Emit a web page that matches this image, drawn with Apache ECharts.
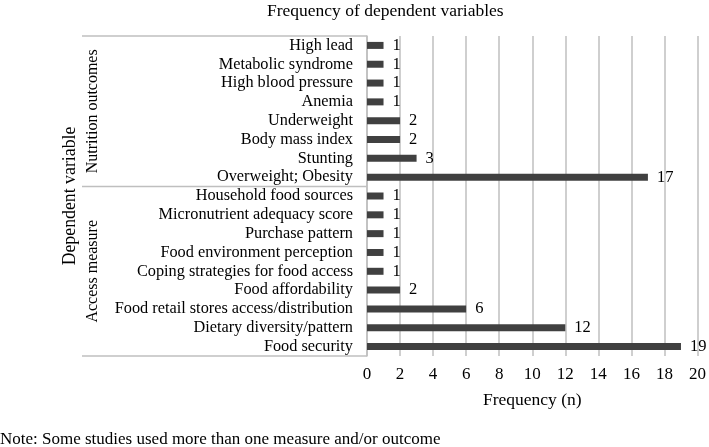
<!DOCTYPE html>
<html><head><meta charset="utf-8">
<script src="https://cdn.jsdelivr.net/npm/echarts@6/dist/echarts.min.js"></script>
<style>html,body{margin:0;padding:0;background:#fff}#c{width:709px;height:447px}</style>
</head><body><div id="c"></div>
<script>
const categories = ["High lead","Metabolic syndrome","High blood pressure","Anemia","Underweight","Body mass index","Stunting","Overweight; Obesity","Household food sources","Micronutrient adequacy score","Purchase pattern","Food environment perception","Coping strategies for food access","Food affordability","Food retail stores access/distribution","Dietary diversity/pattern","Food security"];
const values = [1,1,1,1,2,2,3,17,1,1,1,1,1,2,6,12,19];
const groups = [{name:"Nutrition outcomes", from:0, to:7},{name:"Access measure", from:8, to:16}];
const xTicks = [0,2,4,6,8,10,12,14,16,18,20];

const FONT = '"Liberation Serif","Times New Roman",serif';
const chart = echarts.init(document.getElementById('c'));
const gridTop = 36, gridBottom = 356, bracketLeft = 82, axisX = 367;
chart.setOption({
  animation:false,
  title:{text:"Frequency of dependent variables", left:262, top:-3,
    textStyle:{fontFamily:FONT,fontSize:17.5,fontWeight:'normal',color:'#000'}},
  grid:{left:axisX, right:9, top:gridTop, bottom:447-gridBottom, containLabel:false},
  xAxis:{type:'value', min:xTicks[0], max:xTicks[xTicks.length-1], interval:2,
    name:"Frequency (n)", nameLocation:'middle', nameGap:35,
    nameTextStyle:{fontFamily:FONT,fontSize:17.5,color:'#000'},
    axisLine:{show:false}, axisTick:{show:false},
    axisLabel:{fontFamily:FONT,fontSize:17,color:'#000',margin:10},
    splitLine:{show:true,lineStyle:{color:'#bfbfbf',width:1.5}}},
  yAxis:{type:'category', data:categories, inverse:true,
    axisLine:{show:true,lineStyle:{color:'#bfbfbf',width:1.5}}, axisTick:{show:false},
    axisLabel:{interval:0,fontFamily:FONT,fontSize:16.3,color:'#000',margin:14}},
  series:[{type:'bar', data:values, barWidth:7, itemStyle:{color:'#404040'},
    label:{show:true,position:'right',distance:9,fontFamily:FONT,fontSize:16.5,color:'#000'}}]
});

// Bracket lines and group labels positioned from the axis scale
function yAt(i){ return chart.convertToPixel({yAxisIndex:0}, categories[i]); }
const band = yAt(1)-yAt(0);
const gfx = [];
const lineStyle = {stroke:'#bfbfbf', lineWidth:1.5};
const edges = [yAt(0)-band/2];
groups.forEach(g=>edges.push(yAt(g.to)+band/2));
edges.forEach(y=>gfx.push({type:'line', shape:{x1:bracketLeft,y1:y,x2:axisX,y2:y}, style:lineStyle}));
groups.forEach(g=>{
  const cy = (yAt(g.from)+yAt(g.to))/2;
  gfx.push({type:'text', x:93, y:cy, rotation:Math.PI/2,
    style:{text:g.name, fontFamily:FONT, fontSize:16, fill:'#000', align:'center', verticalAlign:'middle'}});
});
gfx.push({type:'text', x:70, y:(edges[0]+edges[edges.length-1])/2, rotation:Math.PI/2,
  style:{text:"Dependent variable", fontFamily:FONT, fontSize:17.8, fill:'#000', align:'center', verticalAlign:'middle'}});
gfx.push({type:'text', x:0, y:440, style:{text:"Note: Some studies used more than one measure and/or outcome", fontFamily:FONT, fontSize:17, fill:'#000', align:'left', verticalAlign:'middle'}});
chart.setOption({graphic:gfx});
</script></body></html>
